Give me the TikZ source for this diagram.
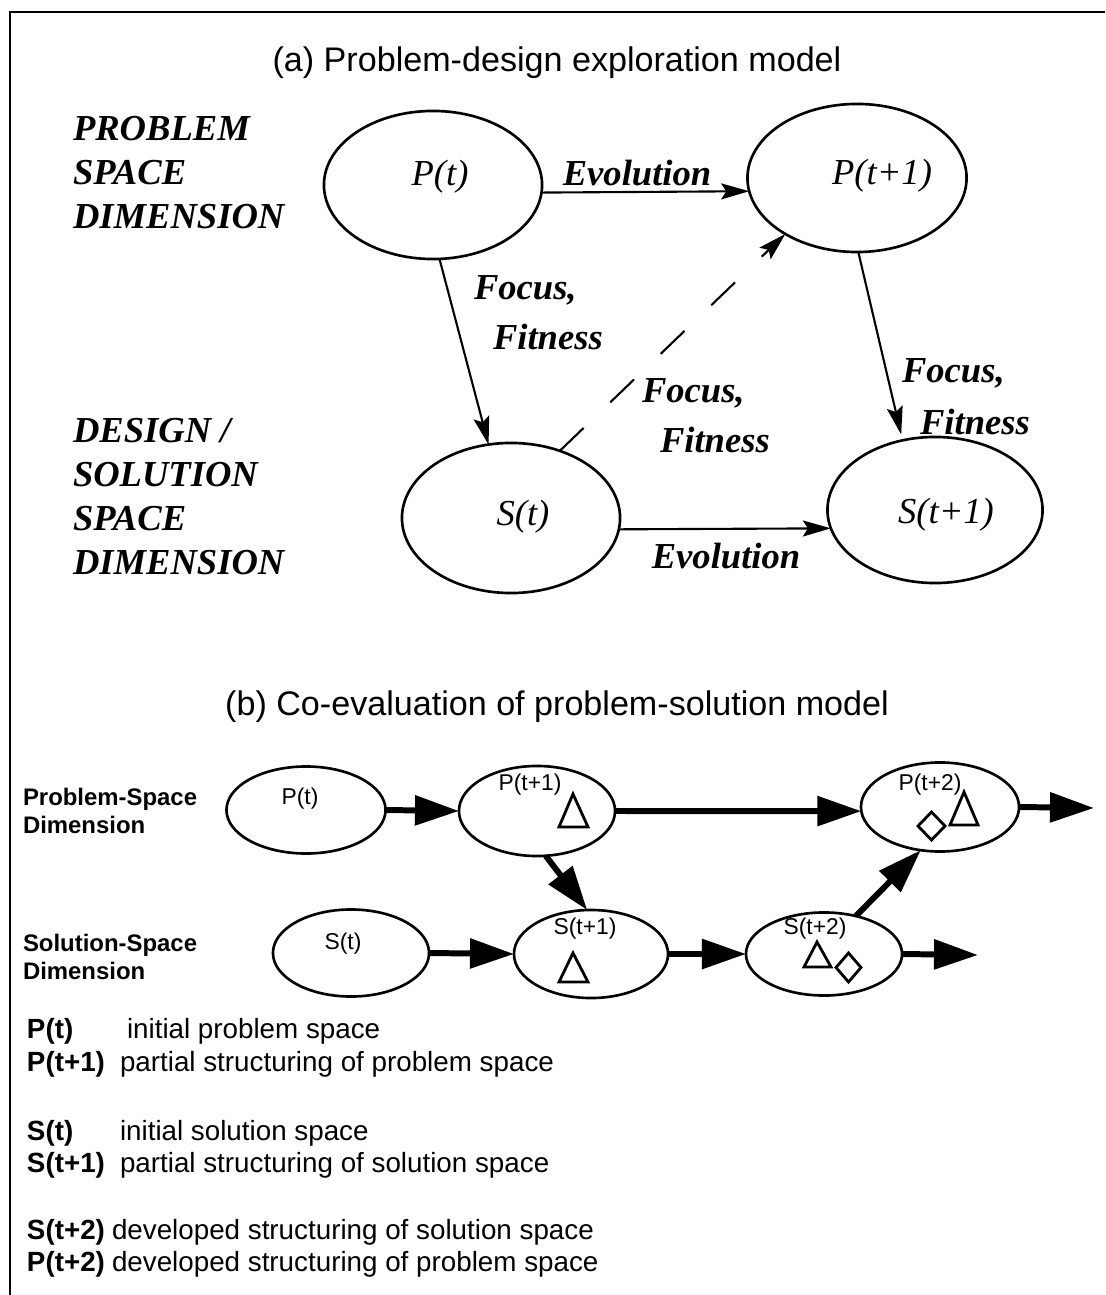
\documentclass[tikz,border=0pt]{standalone}
\usepackage{fontspec}
\setmainfont{Liberation Serif}
\setsansfont{Liberation Sans}
\usetikzlibrary{shapes.geometric,arrows.meta}

\begin{document}
\begin{tikzpicture}[x=0.01cm,y=-0.01cm,
  every node/.style={inner sep=0pt,outer sep=0pt},
  ovalA/.style={draw,ellipse,line width=0.75pt,inner sep=0pt},
  ovalB/.style={draw,ellipse,line width=0.75pt,inner sep=0pt},
  dimlabel/.style={font=\fontsize{10.4}{12.5}\selectfont\bfseries\itshape,align=left,anchor=west},
  edgelabel/.style={font=\fontsize{10.4}{12.5}\selectfont\bfseries\itshape},
  statelabel/.style={font=\fontsize{10.4}{12.5}\selectfont\itshape},
  heading/.style={font=\sffamily\fontsize{9.7}{11}\selectfont},
  rowlabel/.style={font=\sffamily\bfseries\fontsize{6.8}{8}\selectfont,align=left,anchor=west},
  smalllabel/.style={font=\sffamily\fontsize{6.5}{7.5}\selectfont},
  keyterm/.style={font=\sffamily\bfseries\fontsize{7.9}{9}\selectfont,anchor=base west},
  keytext/.style={font=\sffamily\fontsize{7.9}{9}\selectfont,anchor=base west},
  thinarrow/.style={line width=0.6pt,-{Stealth[length=0.28cm,width=0.16cm,inset=0.05cm]}},
  fatarrow/.style={line width=1.7pt,-{Triangle[length=0.44cm,width=0.29cm]}},
  glyph/.style={line width=0.8pt,line join=miter}
]
\useasboundingbox (0,0) rectangle (1105,1295);

% frame
\draw[line width=0.8pt] (1105,12) -- (10,12) -- (10,1295);

% ---------------- (a) ----------------
\node[heading] (ta) at (557,63) {(a) Problem-design exploration model};

\node[dimlabel] (probdim) at (73,173) {PROBLEM\\SPACE\\DIMENSION};
\node[dimlabel] (soldim) at (73,497) {DESIGN /\\SOLUTION\\SPACE\\DIMENSION};

\node[ovalA,minimum width=2.18cm,minimum height=1.48cm] (Pa) at (433,185) {};
\node[ovalA,minimum width=2.19cm,minimum height=1.48cm] (Pa1) at (857,178) {};
\node[ovalA,minimum width=2.18cm,minimum height=1.50cm] (Sa) at (511,518) {};
\node[ovalA,minimum width=2.15cm,minimum height=1.46cm] (Sa1) at (935,510) {};

\node[statelabel] (lPa) at (440,177) {P(t)};
\node[statelabel] (lPa1) at (882,176) {P(t+1)};
\node[statelabel] (lSa) at (523,517) {S(t)};
\node[statelabel] (lSa1) at (946,515) {S(t+1)};

\draw[thinarrow] (Pa.-4) -- (Pa1.187);
\draw[thinarrow] (Sa.-6) -- (Sa1.190);
\draw[thinarrow] (Pa.275) -- (Sa.107);
\draw[thinarrow,shorten >=0.06cm] (Pa1.271) -- (Sa1.115);
\draw[thinarrow,dash pattern=on 0.33cm off 0.37cm] (Sa.54) -- (Pa1.218);

\node[edgelabel] (evo1) at (637,173) {Evolution};
\node[edgelabel] (evo2) at (726,556) {Evolution};
\node[edgelabel,anchor=west] (f1) at (474,290) {Focus,};
\node[edgelabel,anchor=west] (fi1) at (493,337) {Fitness};
\node[edgelabel,anchor=west] (f2) at (642,393) {Focus,};
\node[edgelabel,anchor=west] (fi2) at (660,440) {Fitness};
\node[edgelabel,anchor=west] (f3) at (902,373) {Focus,};
\node[edgelabel,anchor=west] (fi3) at (920,422) {Fitness};

% ---------------- (b) ----------------
\node[heading] (tb) at (557,707) {(b) Co-evaluation of problem-solution model};

\node[rowlabel] (rowP) at (23,811) {Problem-Space\\Dimension};
\node[rowlabel] (rowS) at (23,957) {Solution-Space\\Dimension};

\node[ovalB,minimum width=1.59cm,minimum height=0.87cm] (Pb) at (306,810) {};
\node[ovalB,minimum width=1.56cm,minimum height=0.90cm] (Pb1) at (537,811) {};
\node[ovalB,minimum width=1.58cm,minimum height=0.89cm] (Pb2) at (940,807) {};
\node[ovalB,minimum width=1.56cm,minimum height=0.87cm] (Sb) at (351,953) {};
\node[ovalB,minimum width=1.54cm,minimum height=0.88cm] (Sb1) at (591,954) {};
\node[ovalB,minimum width=1.56cm,minimum height=0.83cm] (Sb2) at (824,954) {};

\node[smalllabel] (lPb) at (300,799) {P(t)};
\node[smalllabel] (lPb1) at (530,785) {P(t+1)};
\node[smalllabel] (lPb2) at (930,785) {P(t+2)};
\node[smalllabel] (lSb) at (343,944) {S(t)};
\node[smalllabel] (lSb1) at (585,929) {S(t+1)};
\node[smalllabel] (lSb2) at (815,929) {S(t+2)};

% structure glyphs
\draw[glyph] (559,827) -- (573,794) -- (588,827) -- cycle;
\draw[glyph] (950,825) -- (964,792) -- (978,825) -- cycle;
\draw[glyph] (918,826) -- (931.5,812) -- (945,826) -- (931.5,840) -- cycle;
\draw[glyph] (559,982) -- (573,953) -- (588,982) -- cycle;
\draw[glyph] (804,967) -- (817,942) -- (831,967) -- cycle;
\draw[glyph] (836,967.5) -- (848.5,953) -- (861,967.5) -- (848.5,982) -- cycle;

\coordinate (pout) at (1094,808);
\coordinate (sout) at (978,955);

\draw[fatarrow] (Pb.east) -- (Pb1.west);
\draw[fatarrow] (Pb1.east) -- (Pb2.183);
\draw[fatarrow] (Pb2.east) -- (pout);
\draw[fatarrow] (Sb.east) -- (Sb1.west);
\draw[fatarrow] (Sb1.east) -- (Sb2.west);
\draw[fatarrow] (Sb2.east) -- (sout);
\draw[fatarrow] (Pb1.281) -- (Sb1.95);
\draw[fatarrow] (Sb2.50) -- (Pb2.246);

% key
\node[keyterm] (k1) at (27,1038) {P(t)};
\node[keytext] (d1) at (127,1038) {initial problem space};
\node[keyterm] (k2) at (27,1071) {P(t+1)};
\node[keytext] (d2) at (120,1071) {partial structuring of problem space};
\node[keyterm] (k3) at (27,1140) {S(t)};
\node[keytext] (d3) at (120,1140) {initial solution space};
\node[keyterm] (k4) at (27,1172) {S(t+1)};
\node[keytext] (d4) at (120,1172) {partial structuring of solution space};
\node[keyterm] (k5) at (27,1239) {S(t+2)};
\node[keytext] (d5) at (112,1239) {developed structuring of solution space};
\node[keyterm] (k6) at (27,1271) {P(t+2)};
\node[keytext] (d6) at (112,1271) {developed structuring of problem space};
\end{tikzpicture}
\end{document}
